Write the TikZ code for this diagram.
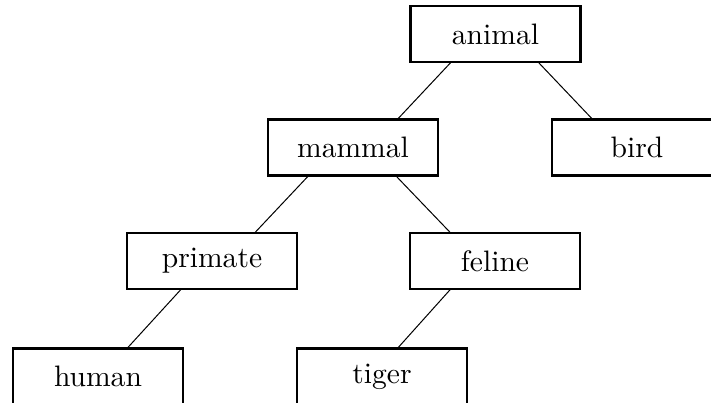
\documentclass[tikz,border=0pt]{standalone}
\usetikzlibrary{calc}
\begin{document}
\begin{tikzpicture}[x=0.338pt,y=-0.338pt]

    \tikzstyle{box}=[draw=black, rectangle, line width=0.75pt, minimum width=57.5pt, minimum height=18.9pt, inner sep=0pt, outer sep=0pt]
    \tikzstyle{link}=[draw=black, line width=0.34pt]

    \useasboundingbox (0,0) rectangle (711,402);

    % Classes, one row per level
    \node at (495.5, 34)  [box] (animal)  {animal};
    \node at (353, 147.5) [box] (mammal)  {mammal};
    \node at (637, 147.5) [box] (bird)    {bird};
    \node at (212, 261)   [box] (primate) {primate};
    \node at (495, 261)   [box] (feline)  {feline};
    \node at (98, 376.5)  [box] (human)   {human};
    \node at (382, 376.5) [box] (tiger)   {tiger};

    % Subclass links
    \draw [link] ($(animal.south west)!.24!(animal.south east)$) -- ($(mammal.north west)!.76!(mammal.north east)$);
    \draw [link] ($(animal.south west)!.75!(animal.south east)$) -- ($(bird.north west)!.24!(bird.north east)$);
    \draw [link] ($(mammal.south west)!.24!(mammal.south east)$) -- ($(primate.north west)!.75!(primate.north east)$);
    \draw [link] ($(mammal.south west)!.75!(mammal.south east)$) -- ($(feline.north west)!.24!(feline.north east)$);
    \draw [link] ($(primate.south west)!.32!(primate.south east)$) -- ($(human.north west)!.67!(human.north east)$);
    \draw [link] ($(feline.south west)!.24!(feline.south east)$) -- ($(tiger.north west)!.59!(tiger.north east)$);

\end{tikzpicture}
\end{document}
